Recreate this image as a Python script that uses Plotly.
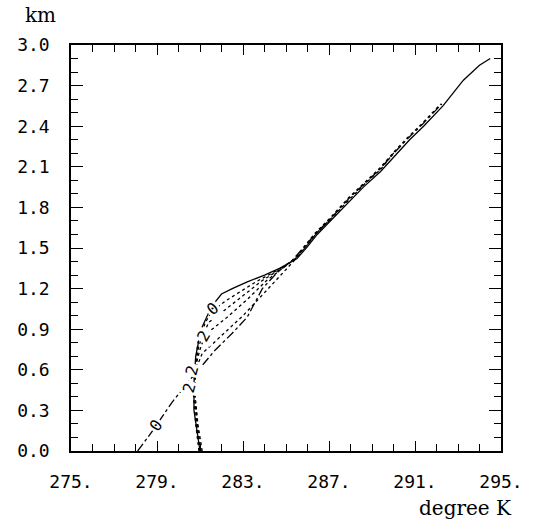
import plotly.graph_objects as go

# Final (solid) profile
T_final = [281.0, 280.85, 280.72, 280.72, 280.8, 281.05, 281.4, 281.7, 282.0, 282.5, 283.2, 284.0,
           284.7, 285.5, 286.0, 286.45, 287.2, 288.0, 288.6, 289.4, 290.15, 290.75, 291.4, 292.3,
           292.65, 293.25, 294.0, 294.5]
z_final = [0.0, 0.15, 0.3, 0.5, 0.7, 0.9, 1.02, 1.10, 1.16, 1.2, 1.25, 1.30, 1.35, 1.42, 1.51, 1.60,
           1.72, 1.855, 1.95, 2.065, 2.20, 2.30, 2.40, 2.55, 2.62, 2.74, 2.85, 2.9]

# Initial profile (dash-dot, labelled 0)
T_p0 = [278.1, 278.8, 279.7, 280.5, 281.2, 281.7, 282.5, 283.2, 283.9, 284.6, 285.3, 285.9, 286.4,
        287.15, 287.95, 288.55, 289.35, 290.1, 290.7, 291.35, 292.25]
z_p0 = [0.0, 0.15, 0.36, 0.52, 0.65, 0.745, 0.87, 0.99, 1.2, 1.32, 1.41, 1.52, 1.61, 1.73, 1.87,
        1.96, 2.08, 2.215, 2.315, 2.415, 2.565]

# Intermediate profiles (dotted)
T_p2 = [281.05, 280.85, 280.75, 280.8, 281.1, 282.0, 283.0, 284.0, 284.8, 285.4, 285.9, 286.35,
        287.1, 287.9, 288.5, 289.3, 290.05, 290.65, 291.3, 292.2]
z_p2 = [0.0, 0.2, 0.4, 0.6, 0.72, 0.85, 1.0, 1.17, 1.31, 1.41, 1.52, 1.61, 1.73, 1.87, 1.96, 2.08,
        2.215, 2.315, 2.415, 2.565]
T_p4 = [280.95, 280.8, 280.7, 280.75, 281.0, 281.25, 282.2, 283.2, 284.1, 284.8, 285.5, 286.0,
        286.45, 287.2, 288.0, 288.6, 289.4, 290.1]
z_p4 = [0.0, 0.2, 0.4, 0.6, 0.75, 0.86, 0.98, 1.12, 1.26, 1.345, 1.43, 1.525, 1.615, 1.735, 1.87,
        1.965, 2.08, 2.22]
T_p6 = [281.1, 280.9, 280.78, 280.78, 280.95, 281.4, 282.3, 283.1, 283.9, 284.6, 285.4, 285.95,
        286.4, 287.15]
z_p6 = [0.0, 0.2, 0.4, 0.6, 0.78, 0.95, 1.06, 1.16, 1.26, 1.33, 1.42, 1.515, 1.605, 1.725]
T_p8 = [281.0, 280.88, 280.76, 280.76, 280.9, 281.25, 281.55, 282.2, 282.9, 283.6, 284.3, 284.9]
z_p8 = [0.0, 0.2, 0.4, 0.6, 0.8, 0.95, 1.03, 1.11, 1.18, 1.25, 1.31, 1.365]

x_tickvals = [275, 279, 283, 287, 291, 295]
x_ticktext = ["275.", "279.", "283.", "287.", "291.", "295."]
y_tickvals = [0.0, 0.3, 0.6, 0.9, 1.2, 1.5, 1.8, 2.1, 2.4, 2.7, 3.0]
y_ticktext = ["0.0", "0.3", "0.6", "0.9", "1.2", "1.5", "1.8", "2.1", "2.4", "2.7", "3.0"]

fig = go.Figure()
line_specs = [
    (T_p0, z_p0, "dashdot"),
    (T_p2, z_p2, "dot"),
    (T_p4, z_p4, "dot"),
    (T_p6, z_p6, "dot"),
    (T_p8, z_p8, "dot"),
    (T_final, z_final, "solid"),
]
for T, z, dash in line_specs:
    fig.add_trace(go.Scatter(x=T, y=z, mode="lines", showlegend=False, hoverinfo="skip",
                             line=dict(color="black", width=1.3, dash=dash)))

# curve labels
labels = [("0", 278.95, 0.19, -55), ("2", 280.5, 0.47, -75), ("2", 280.65, 0.6, -75),
          ("2", 281.2, 0.85, -60), ("0", 281.6, 1.05, -40)]
for txt, x, y, ang in labels:
    fig.add_annotation(x=x, y=y, text=txt, showarrow=False, textangle=ang,
                       font=dict(family="DejaVu Sans Mono", size=16, color="black"),
                       bgcolor="white")

fig.add_annotation(xref="paper", yref="paper", x=-0.07, y=1.075, xanchor="center", yanchor="middle",
                   text="km", showarrow=False,
                   font=dict(family="DejaVu Serif", size=20, color="black"))
fig.add_annotation(xref="paper", yref="paper", x=1.03, y=-0.14, xanchor="right", yanchor="middle",
                   text="degree K", showarrow=False,
                   font=dict(family="DejaVu Serif", size=20, color="black"))

axis_common = dict(showgrid=False, zeroline=False, showline=True, linecolor="black", linewidth=1.5,
                   mirror="allticks", ticks="inside", tickcolor="black", tickwidth=1.3,
                   tickfont=dict(family="DejaVu Sans Mono", size=18, color="black"))
fig.update_xaxes(range=[275, 295], tickmode="array", tickvals=x_tickvals, ticktext=x_ticktext,
                 ticklen=10, ticklabelstandoff=14,
                 minor=dict(dtick=1, tick0=275, ticks="inside", ticklen=7, tickcolor="black",
                            tickwidth=1.2),
                 **axis_common)
fig.update_yaxes(range=[0, 3.0], tickmode="array", tickvals=y_tickvals, ticktext=y_ticktext,
                 ticklen=12, ticklabelstandoff=16,
                 minor=dict(dtick=0.1, tick0=0, ticks="inside", ticklen=7, tickcolor="black",
                            tickwidth=1.2),
                 **axis_common)
fig.update_layout(width=544, height=528, margin=dict(l=71, r=43, t=45, b=77),
                  paper_bgcolor="white", plot_bgcolor="white")
fig.write_html("out.html")
